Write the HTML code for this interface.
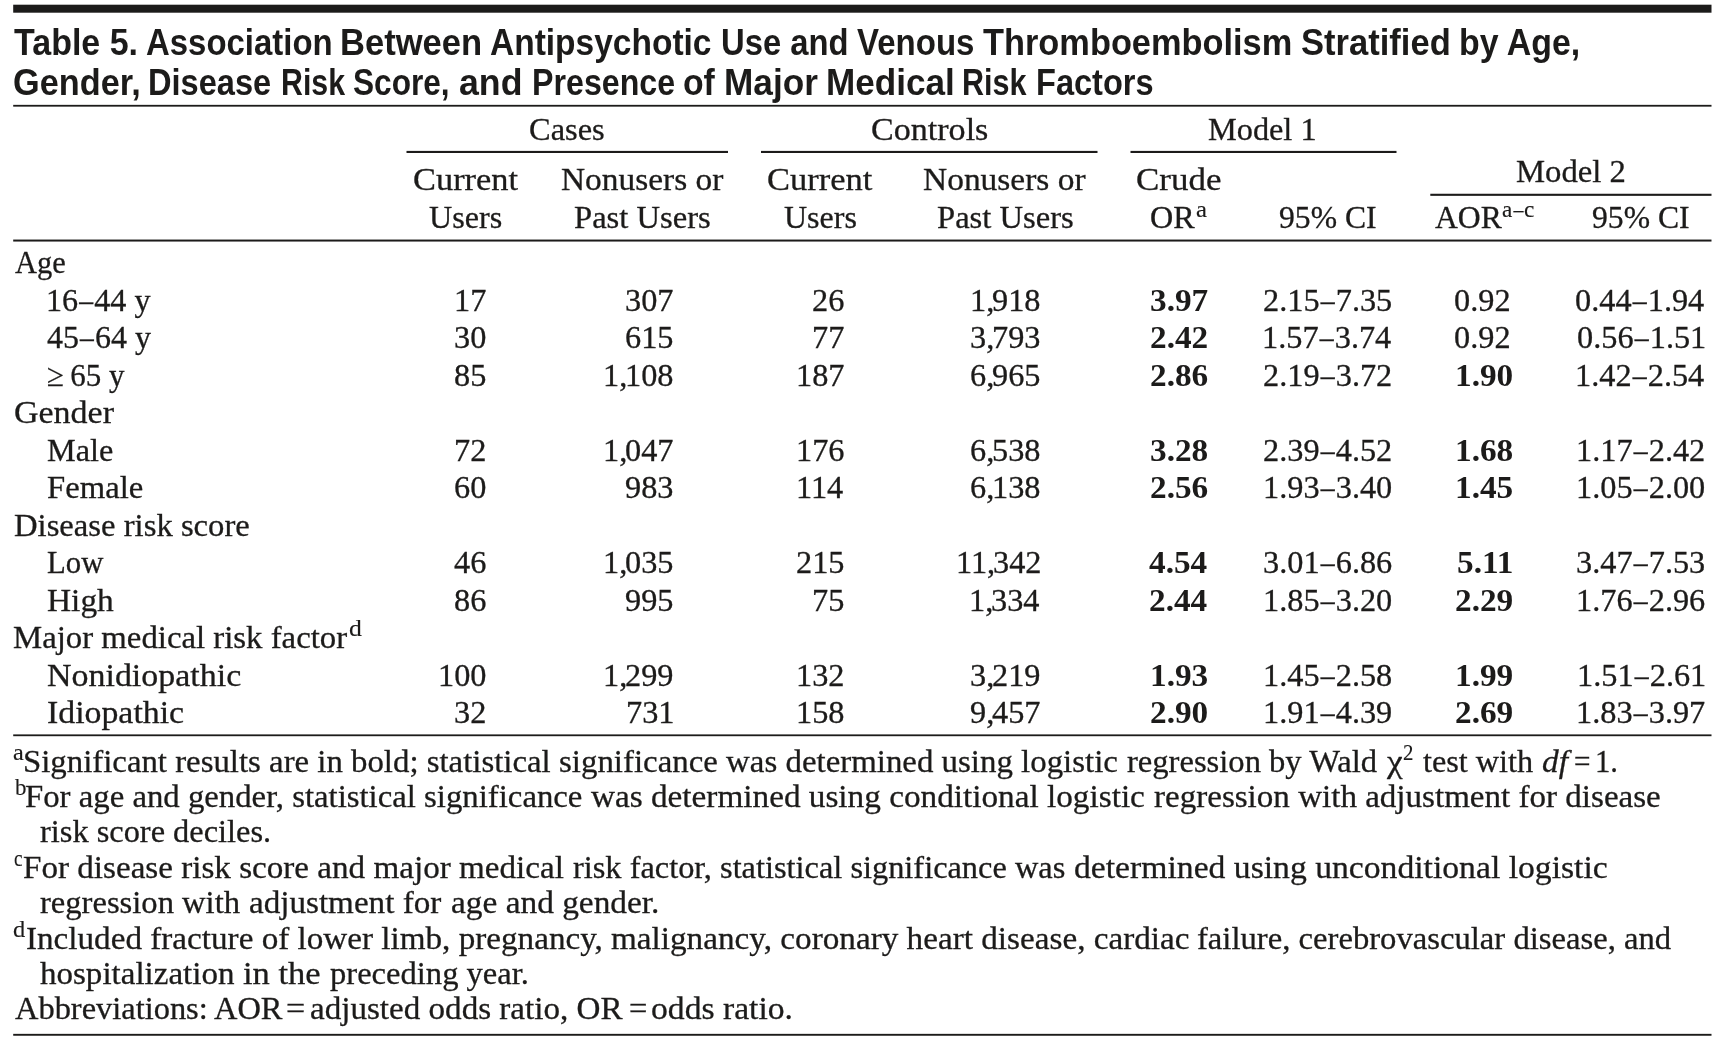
<!DOCTYPE html>
<html lang="en">
<head>
<meta charset="utf-8">
<title>Table 5</title>
<style>
html,body{margin:0;padding:0;background:#fff;}
body{width:1721px;height:1039px;position:relative;overflow:hidden;color:#1c1b1a;}
.x{position:absolute;white-space:nowrap;line-height:40px;transform-origin:0 0;}
.t{font-family:"Liberation Sans",sans-serif;font-weight:bold;font-size:37px;}
.s{font-family:"Liberation Serif",serif;font-size:32px;-webkit-text-stroke:0.3px #1c1b1a;}
.b{font-family:"Liberation Serif",serif;font-size:32px;font-weight:bold;}
.p{font-family:"Liberation Serif",serif;font-size:24px;-webkit-text-stroke:0.15px #1c1b1a;}
.d{display:inline-block;transform:scaleX(0.86);}
svg{position:absolute;left:0;top:0;}
#page{position:absolute;left:0;top:0;width:1721px;height:1039px;will-change:transform;}
</style>
</head>
<body>
<div id="page">
<svg width="1721" height="1039" viewBox="0 0 1721 1039">
<rect x="13.20" y="4.70" width="1698.30" height="8.00" fill="#1c1b1a"/>
<rect x="13.20" y="104.85" width="1698.30" height="1.80" fill="#1c1b1a"/>
<rect x="406.50" y="150.90" width="321.50" height="2.10" fill="#1c1b1a"/>
<rect x="761.00" y="150.90" width="336.50" height="2.10" fill="#1c1b1a"/>
<rect x="1130.50" y="150.90" width="266.00" height="2.10" fill="#1c1b1a"/>
<rect x="1430.30" y="193.75" width="281.20" height="2.10" fill="#1c1b1a"/>
<rect x="13.20" y="239.55" width="1698.30" height="2.00" fill="#1c1b1a"/>
<rect x="13.20" y="734.40" width="1698.30" height="1.80" fill="#1c1b1a"/>
<rect x="13.20" y="1033.85" width="1698.30" height="1.90" fill="#1c1b1a"/>
</svg>
<div class="x t" style="left:13.80px;top:22.60px;transform:scaleX(0.9188);">Table 5.</div>
<div class="x t" style="left:145.81px;top:22.60px;transform:scaleX(0.8898);">Association</div>
<div class="x t" style="left:339.83px;top:22.60px;transform:scaleX(0.9345);">Between</div>
<div class="x t" style="left:489.79px;top:22.60px;transform:scaleX(0.9053);">Antipsychotic</div>
<div class="x t" style="left:720.93px;top:22.60px;transform:scaleX(0.8857);">Use and</div>
<div class="x t" style="left:856.70px;top:22.60px;transform:scaleX(0.8923);">Venous</div>
<div class="x t" style="left:983.30px;top:22.60px;transform:scaleX(0.9287);">Thromboembolism</div>
<div class="x t" style="left:1300.77px;top:22.60px;transform:scaleX(0.9338);">Stratified</div>
<div class="x t" style="left:1458.87px;top:22.60px;transform:scaleX(0.9164);">by Age,</div>
<div class="x t" style="left:13.15px;top:62.60px;transform:scaleX(0.9271);">Gender,</div>
<div class="x t" style="left:148.24px;top:62.60px;transform:scaleX(0.8810);">Disease</div>
<div class="x t" style="left:281.06px;top:62.60px;transform:scaleX(0.8197);">Risk</div>
<div class="x t" style="left:353.45px;top:62.60px;transform:scaleX(0.8545);">Score,</div>
<div class="x t" style="left:459.03px;top:62.60px;transform:scaleX(0.9651);">and</div>
<div class="x t" style="left:531.56px;top:62.60px;transform:scaleX(0.8696);">Presence</div>
<div class="x t" style="left:683.09px;top:62.60px;transform:scaleX(0.9118);">of</div>
<div class="x t" style="left:724.10px;top:62.60px;transform:scaleX(0.9510);">Major</div>
<div class="x t" style="left:826.40px;top:62.60px;transform:scaleX(0.9496);">Medical</div>
<div class="x t" style="left:962.35px;top:62.60px;transform:scaleX(0.8250);">Risk</div>
<div class="x t" style="left:1035.54px;top:62.60px;transform:scaleX(0.8800);">Factors</div>
<div class="x s" style="left:529.49px;top:108.50px;transform:scaleX(1.0137);">Cases</div>
<div class="x s" style="left:870.94px;top:108.50px;transform:scaleX(1.0648);">Controls</div>
<div class="x s" style="left:1208.49px;top:108.50px;transform:scaleX(1.0095);">Model 1</div>
<div class="x s" style="left:1515.58px;top:151.00px;transform:scaleX(1.0210);">Model 2</div>
<div class="x s" style="left:412.68px;top:159.00px;transform:scaleX(1.0747);">Current</div>
<div class="x s" style="left:429.00px;top:196.75px;transform:scaleX(1.0035);">Users</div>
<div class="x s" style="left:560.96px;top:159.00px;transform:scaleX(1.0435);">Nonusers or</div>
<div class="x s" style="left:574.48px;top:196.75px;transform:scaleX(1.0189);">Past Users</div>
<div class="x s" style="left:766.92px;top:159.00px;transform:scaleX(1.0773);">Current</div>
<div class="x s" style="left:784.00px;top:196.75px;transform:scaleX(1.0000);">Users</div>
<div class="x s" style="left:922.95px;top:159.00px;transform:scaleX(1.0452);">Nonusers or</div>
<div class="x s" style="left:936.98px;top:196.75px;transform:scaleX(1.0189);">Past Users</div>
<div class="x s" style="left:1135.91px;top:159.00px;transform:scaleX(1.0921);">Crude</div>
<div class="x s" style="left:1150.30px;top:196.75px;transform:scaleX(1.0045);">OR</div>
<div class="x p" style="left:1195.67px;top:189.00px;transform:scaleX(1.0333);">a</div>
<div class="x s" style="left:1279.01px;top:196.75px;transform:scaleX(0.9897);">95% CI</div>
<div class="x s" style="left:1434.50px;top:196.75px;transform:scaleX(0.9882);">AOR</div>
<div class="x p" style="left:1502.03px;top:189.25px;transform:scaleX(0.9688);">a<span class="d">–</span>c</div>
<div class="x s" style="left:1592.01px;top:196.75px;transform:scaleX(0.9897);">95% CI</div>
<div class="x s" style="left:15.00px;top:242.25px;transform:scaleX(0.9519);">Age</div>
<div class="x s" style="left:46.49px;top:279.75px;transform:scaleX(1.0050);">16<span class="d">–</span>44 y</div>
<div class="x s" style="left:47.00px;top:317.25px;transform:scaleX(1.0000);">45<span class="d">–</span>64 y</div>
<div class="x s" style="left:46.53px;top:354.75px;transform:scaleX(0.9684);">≥ 65 y</div>
<div class="x s" style="left:13.94px;top:392.25px;transform:scaleX(1.0618);">Gender</div>
<div class="x s" style="left:46.99px;top:429.75px;transform:scaleX(1.0078);">Male</div>
<div class="x s" style="left:46.98px;top:467.25px;transform:scaleX(1.0217);">Female</div>
<div class="x s" style="left:13.98px;top:504.75px;transform:scaleX(1.0207);">Disease risk score</div>
<div class="x s" style="left:47.04px;top:542.25px;transform:scaleX(0.9612);">Low</div>
<div class="x s" style="left:46.96px;top:579.75px;transform:scaleX(1.0437);">High</div>
<div class="x s" style="left:13.48px;top:617.25px;transform:scaleX(1.0246);">Major medical risk factor</div>
<div class="x p" style="left:348.93px;top:608.25px;transform:scaleX(1.0682);">d</div>
<div class="x s" style="left:46.94px;top:654.75px;transform:scaleX(1.0608);">Nonidiopathic</div>
<div class="x s" style="left:46.94px;top:692.25px;transform:scaleX(1.0566);">Idiopathic</div>
<div class="x s" style="left:453.69px;top:279.75px;transform:scaleX(1.0100);">17</div>
<div class="x s" style="left:625.13px;top:279.75px;transform:scaleX(1.0100);">307</div>
<div class="x s" style="left:812.39px;top:279.75px;transform:scaleX(1.0100);">26</div>
<div class="x s" style="left:970.31px;top:279.75px;transform:scaleX(1.0100);">1<span style="margin-right:-2.2px">,</span>918</div>
<div class="x b" style="left:1150.10px;top:279.75px;transform:scaleX(1.0400);">3.97</div>
<div class="x s" style="left:1262.73px;top:279.75px;transform:scaleX(1.0100);">2.15<span class="d">–</span>7.35</div>
<div class="x s" style="left:1454.45px;top:279.75px;transform:scaleX(1.0100);">0.92</div>
<div class="x s" style="left:1575.22px;top:279.75px;transform:scaleX(1.0100);">0.44<span class="d">–</span>1.94</div>
<div class="x s" style="left:453.69px;top:317.25px;transform:scaleX(1.0100);">30</div>
<div class="x s" style="left:625.13px;top:317.25px;transform:scaleX(1.0100);">615</div>
<div class="x s" style="left:812.39px;top:317.25px;transform:scaleX(1.0100);">77</div>
<div class="x s" style="left:970.31px;top:317.25px;transform:scaleX(1.0100);">3<span style="margin-right:-2.2px">,</span>793</div>
<div class="x b" style="left:1150.10px;top:317.25px;transform:scaleX(1.0400);">2.42</div>
<div class="x s" style="left:1261.72px;top:317.25px;transform:scaleX(1.0100);">1.57<span class="d">–</span>3.74</div>
<div class="x s" style="left:1454.45px;top:317.25px;transform:scaleX(1.0100);">0.92</div>
<div class="x s" style="left:1577.24px;top:317.25px;transform:scaleX(1.0100);">0.56<span class="d">–</span>1.51</div>
<div class="x s" style="left:453.69px;top:354.75px;transform:scaleX(1.0100);">85</div>
<div class="x s" style="left:602.91px;top:354.75px;transform:scaleX(1.0100);">1<span style="margin-right:-2.2px">,</span>108</div>
<div class="x s" style="left:796.23px;top:354.75px;transform:scaleX(1.0100);">187</div>
<div class="x s" style="left:970.31px;top:354.75px;transform:scaleX(1.0100);">6<span style="margin-right:-2.2px">,</span>965</div>
<div class="x b" style="left:1150.10px;top:354.75px;transform:scaleX(1.0400);">2.86</div>
<div class="x s" style="left:1262.73px;top:354.75px;transform:scaleX(1.0100);">2.19<span class="d">–</span>3.72</div>
<div class="x b" style="left:1454.80px;top:354.75px;transform:scaleX(1.0400);">1.90</div>
<div class="x s" style="left:1575.22px;top:354.75px;transform:scaleX(1.0100);">1.42<span class="d">–</span>2.54</div>
<div class="x s" style="left:453.69px;top:429.75px;transform:scaleX(1.0100);">72</div>
<div class="x s" style="left:602.91px;top:429.75px;transform:scaleX(1.0100);">1<span style="margin-right:-2.2px">,</span>047</div>
<div class="x s" style="left:796.23px;top:429.75px;transform:scaleX(1.0100);">176</div>
<div class="x s" style="left:970.31px;top:429.75px;transform:scaleX(1.0100);">6<span style="margin-right:-2.2px">,</span>538</div>
<div class="x b" style="left:1150.10px;top:429.75px;transform:scaleX(1.0400);">3.28</div>
<div class="x s" style="left:1262.73px;top:429.75px;transform:scaleX(1.0100);">2.39<span class="d">–</span>4.52</div>
<div class="x b" style="left:1454.80px;top:429.75px;transform:scaleX(1.0400);">1.68</div>
<div class="x s" style="left:1576.23px;top:429.75px;transform:scaleX(1.0100);">1.17<span class="d">–</span>2.42</div>
<div class="x s" style="left:453.69px;top:467.25px;transform:scaleX(1.0100);">60</div>
<div class="x s" style="left:625.13px;top:467.25px;transform:scaleX(1.0100);">983</div>
<div class="x s" style="left:796.23px;top:467.25px;transform:scaleX(1.0100);">114</div>
<div class="x s" style="left:970.31px;top:467.25px;transform:scaleX(1.0100);">6<span style="margin-right:-2.2px">,</span>138</div>
<div class="x b" style="left:1150.10px;top:467.25px;transform:scaleX(1.0400);">2.56</div>
<div class="x s" style="left:1262.73px;top:467.25px;transform:scaleX(1.0100);">1.93<span class="d">–</span>3.40</div>
<div class="x b" style="left:1454.80px;top:467.25px;transform:scaleX(1.0400);">1.45</div>
<div class="x s" style="left:1576.23px;top:467.25px;transform:scaleX(1.0100);">1.05<span class="d">–</span>2.00</div>
<div class="x s" style="left:453.69px;top:542.25px;transform:scaleX(1.0100);">46</div>
<div class="x s" style="left:602.91px;top:542.25px;transform:scaleX(1.0100);">1<span style="margin-right:-2.2px">,</span>035</div>
<div class="x s" style="left:796.23px;top:542.25px;transform:scaleX(1.0100);">215</div>
<div class="x s" style="left:956.17px;top:542.25px;transform:scaleX(1.0100);">11<span style="margin-right:-2.2px">,</span>342</div>
<div class="x b" style="left:1149.06px;top:542.25px;transform:scaleX(1.0400);">4.54</div>
<div class="x s" style="left:1262.73px;top:542.25px;transform:scaleX(1.0100);">3.01<span class="d">–</span>6.86</div>
<div class="x b" style="left:1456.88px;top:542.25px;transform:scaleX(1.0400);">5.11</div>
<div class="x s" style="left:1576.23px;top:542.25px;transform:scaleX(1.0100);">3.47<span class="d">–</span>7.53</div>
<div class="x s" style="left:453.69px;top:579.75px;transform:scaleX(1.0100);">86</div>
<div class="x s" style="left:625.13px;top:579.75px;transform:scaleX(1.0100);">995</div>
<div class="x s" style="left:812.39px;top:579.75px;transform:scaleX(1.0100);">75</div>
<div class="x s" style="left:969.30px;top:579.75px;transform:scaleX(1.0100);">1<span style="margin-right:-2.2px">,</span>334</div>
<div class="x b" style="left:1149.06px;top:579.75px;transform:scaleX(1.0400);">2.44</div>
<div class="x s" style="left:1262.73px;top:579.75px;transform:scaleX(1.0100);">1.85<span class="d">–</span>3.20</div>
<div class="x b" style="left:1454.80px;top:579.75px;transform:scaleX(1.0400);">2.29</div>
<div class="x s" style="left:1576.23px;top:579.75px;transform:scaleX(1.0100);">1.76<span class="d">–</span>2.96</div>
<div class="x s" style="left:437.53px;top:654.75px;transform:scaleX(1.0100);">100</div>
<div class="x s" style="left:602.91px;top:654.75px;transform:scaleX(1.0100);">1<span style="margin-right:-2.2px">,</span>299</div>
<div class="x s" style="left:796.23px;top:654.75px;transform:scaleX(1.0100);">132</div>
<div class="x s" style="left:970.31px;top:654.75px;transform:scaleX(1.0100);">3<span style="margin-right:-2.2px">,</span>219</div>
<div class="x b" style="left:1150.10px;top:654.75px;transform:scaleX(1.0400);">1.93</div>
<div class="x s" style="left:1262.73px;top:654.75px;transform:scaleX(1.0100);">1.45<span class="d">–</span>2.58</div>
<div class="x b" style="left:1454.80px;top:654.75px;transform:scaleX(1.0400);">1.99</div>
<div class="x s" style="left:1577.24px;top:654.75px;transform:scaleX(1.0100);">1.51<span class="d">–</span>2.61</div>
<div class="x s" style="left:453.69px;top:692.25px;transform:scaleX(1.0100);">32</div>
<div class="x s" style="left:626.14px;top:692.25px;transform:scaleX(1.0100);">731</div>
<div class="x s" style="left:796.23px;top:692.25px;transform:scaleX(1.0100);">158</div>
<div class="x s" style="left:970.31px;top:692.25px;transform:scaleX(1.0100);">9<span style="margin-right:-2.2px">,</span>457</div>
<div class="x b" style="left:1150.10px;top:692.25px;transform:scaleX(1.0400);">2.90</div>
<div class="x s" style="left:1262.73px;top:692.25px;transform:scaleX(1.0100);">1.91<span class="d">–</span>4.39</div>
<div class="x b" style="left:1454.80px;top:692.25px;transform:scaleX(1.0400);">2.69</div>
<div class="x s" style="left:1576.23px;top:692.25px;transform:scaleX(1.0100);">1.83<span class="d">–</span>3.97</div>
<div class="x p" style="left:13.49px;top:731.75px;transform:scaleX(1.0111);">a</div>
<div class="x s" style="left:22.95px;top:740.75px;transform:scaleX(1.0254);">Significant results are in bold; statistical</div>
<div class="x s" style="left:558.97px;top:740.75px;transform:scaleX(1.0277);">significance was determined using logistic</div>
<div class="x s" style="left:1127.20px;top:740.75px;transform:scaleX(1.0183);">regression by Wald</div>
<div class="x s" style="left:1387.20px;top:740.75px;transform:scaleX(1.1000);">χ</div>
<div class="x p" style="left:1402.63px;top:732.15px;transform:scaleX(0.8700);">2</div>
<div class="x s" style="left:1422.70px;top:740.75px;transform:scaleX(1.0064);">test with</div>
<div class="x s" style="left:1542.06px;top:740.75px;transform:scaleX(1.0429);"><i>df</i></div>
<div class="x s" style="left:1573.69px;top:740.75px;transform:scaleX(0.9125);">=</div>
<div class="x s" style="left:1595.33px;top:740.75px;transform:scaleX(0.9579);">1.</div>
<div class="x p" style="left:15.20px;top:767.11px;transform:scaleX(0.9545);">b</div>
<div class="x s" style="left:25.23px;top:776.11px;transform:scaleX(1.0241);">For age and gender, statistical significance</div>
<div class="x s" style="left:590.70px;top:776.11px;transform:scaleX(1.0387);">was determined using conditional logistic</div>
<div class="x s" style="left:1154.00px;top:776.11px;transform:scaleX(1.0331);">regression with adjustment for disease</div>
<div class="x s" style="left:40.00px;top:811.47px;transform:scaleX(1.0122);">risk score deciles.</div>
<div class="x p" style="left:14.40px;top:837.83px;transform:scaleX(0.8000);">c</div>
<div class="x s" style="left:22.96px;top:846.83px;transform:scaleX(1.0351);">For disease risk score and major medical</div>
<div class="x s" style="left:573.00px;top:846.83px;transform:scaleX(1.0117);">risk factor, statistical significance was</div>
<div class="x s" style="left:1073.65px;top:846.83px;transform:scaleX(1.0518);">determined using unconditional logistic</div>
<div class="x s" style="left:40.00px;top:882.19px;transform:scaleX(1.0184);">regression with</div>
<div class="x s" style="left:249.16px;top:882.19px;transform:scaleX(1.0351);">adjustment for</div>
<div class="x s" style="left:451.26px;top:882.19px;transform:scaleX(1.0426);">age and gender.</div>
<div class="x p" style="left:13.48px;top:908.55px;transform:scaleX(1.0182);">d</div>
<div class="x s" style="left:26.26px;top:917.55px;transform:scaleX(1.0361);">Included fracture of lower limb, pregnancy,</div>
<div class="x s" style="left:610.70px;top:917.55px;transform:scaleX(1.0375);">malignancy, coronary heart disease, cardiac</div>
<div class="x s" style="left:1196.98px;top:917.55px;transform:scaleX(1.0205);">failure, cerebrovascular disease, and</div>
<div class="x s" style="left:40.00px;top:952.91px;transform:scaleX(1.0319);">hospitalization</div>
<div class="x s" style="left:243.42px;top:952.91px;transform:scaleX(1.0786);">in the</div>
<div class="x s" style="left:330.30px;top:952.91px;transform:scaleX(1.0180);">preceding year.</div>
<div class="x s" style="left:15.00px;top:988.27px;transform:scaleX(1.0133);">Abbreviations: AOR</div>
<div class="x s" style="left:286.44px;top:988.27px;transform:scaleX(1.0625);">=</div>
<div class="x s" style="left:310.22px;top:988.27px;transform:scaleX(1.0341);">adjusted odds ratio, OR</div>
<div class="x s" style="left:628.98px;top:988.27px;transform:scaleX(1.0156);">=</div>
<div class="x s" style="left:651.45px;top:988.27px;transform:scaleX(1.0511);">odds ratio.</div>
</div>
</body>
</html>
